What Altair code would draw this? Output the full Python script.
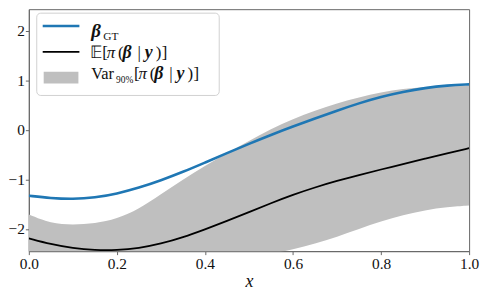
import altair as alt
import pandas as pd

xs = [0.00, 0.05, 0.10, 0.15, 0.20, 0.25, 0.30, 0.35, 0.40, 0.45, 0.50,
      0.55, 0.60, 0.65, 0.70, 0.75, 0.80, 0.85, 0.90, 0.95, 1.00]
beta_gt = [-1.33, -1.38, -1.40, -1.37, -1.29, -1.17, -1.02, -0.85, -0.66, -0.47, -0.28,
           -0.10, 0.07, 0.23, 0.39, 0.54, 0.67, 0.77, 0.85, 0.90, 0.92]
post_mean = [-2.19, -2.31, -2.39, -2.43, -2.43, -2.39, -2.30, -2.17, -2.01, -1.84, -1.66,
             -1.48, -1.31, -1.16, -1.03, -0.91, -0.80, -0.69, -0.58, -0.47, -0.37]
band_upper = [-1.71, -1.89, -1.92, -1.89, -1.80, -1.60, -1.30, -1.00, -0.73, -0.47, -0.22,
              0.02, 0.22, 0.39, 0.54, 0.66, 0.76, 0.83, 0.87, 0.89, 0.90]
band_lower = [-2.75, -2.95, -3.05, -3.10, -3.10, -3.05, -2.95, -2.85, -2.75, -2.65, -2.57,
              -2.50, -2.42, -2.30, -2.16, -2.00, -1.85, -1.72, -1.62, -1.56, -1.53]
x_ticks = [0.0, 0.2, 0.4, 0.6, 0.8, 1.0]
y_ticks = [-2, -1, 0, 1, 2]

df = pd.DataFrame({"x": xs, "gt": beta_gt, "mean": post_mean,
                   "lo": band_lower, "hi": band_upper})

SERIF = "Liberation Serif"
FRAME = "#666666"
INK = "#111111"

xenc = alt.X("x:Q", scale=alt.Scale(domain=[0, 1], nice=False),
             axis=alt.Axis(values=x_ticks, format=".1f", title="x", labelFlush=False,
                           labelFont=SERIF, titleFont=SERIF,
                           titleFontStyle="italic", titleFontWeight="normal",
                           titleFontSize=18, titlePadding=1))
yscale = alt.Scale(domain=[-2.45, 2.44], nice=False)
yaxis = alt.Axis(values=y_ticks, format="d", title=None, labelFont=SERIF,
                 labelFlush=False, labelPadding=1)

base = alt.Chart(df)
band = base.mark_area(color="#bfbfbf", opacity=1, clip=True, interpolate="basis").encode(
    x=xenc, y=alt.Y("lo:Q", scale=yscale, axis=yaxis), y2="hi:Q")
mean_line = base.mark_line(color="black", strokeWidth=1.8, clip=True, interpolate="basis").encode(
    x="x:Q", y=alt.Y("mean:Q", scale=yscale))
gt_line = base.mark_line(color="#1f77b4", strokeWidth=2.6, clip=True, interpolate="basis").encode(
    x="x:Q", y=alt.Y("gt:Q", scale=yscale))

one = alt.Data(values=[{"k": 1}])
leg = alt.Chart(one)
box = leg.mark_rect(fill="white", fillOpacity=0.8, stroke="#d0d0d0", strokeWidth=1,
                    cornerRadius=4).encode(
    x=alt.value(8), x2=alt.value(192), y=alt.value(4), y2=alt.value(87))
l1 = leg.mark_rule(color="#1f77b4", strokeWidth=2.6).encode(
    x=alt.value(14), x2=alt.value(51), y=alt.value(17))
l2 = leg.mark_rule(color="black", strokeWidth=1.8).encode(
    x=alt.value(14), x2=alt.value(51), y=alt.value(43))
l3 = leg.mark_rect(color="#bfbfbf").encode(
    x=alt.value(15), x2=alt.value(50), y=alt.value(63), y2=alt.value(75))

def txt(s, x, y, size=17, style="normal", weight="normal"):
    return leg.mark_text(align="left", baseline="alphabetic", font=SERIF, fontSize=size,
                         fontStyle=style, fontWeight=weight, color=INK).encode(
        x=alt.value(x), y=alt.value(y), text=alt.value(s))

def expr_row(x0, y):
    # "[π (β | y)]" drawn glyph by glyph
    return [
        txt("[", x0, y),
        txt("π", x0 + 4.5, y, style="italic"),
        txt("(", x0 + 16, y),
        txt("β", x0 + 20.5, y, size=18, style="italic", weight="bold"),
        txt("|", x0 + 35.5, y),
        txt("y", x0 + 43, y, size=18, style="italic", weight="bold"),
        txt(")", x0 + 54, y),
        txt("]", x0 + 60, y),
    ]

texts = [
    txt("β", 63, 28, size=19, style="italic", weight="bold"),
    txt("GT", 75, 31, size=11.5),
    txt("𝔼", 62, 49),
    txt("Var", 63, 70, size=16.5),
    txt("90%", 88, 74, size=9.5),
]
texts += expr_row(74, 49)
texts += expr_row(106, 70)

chart = alt.layer(band, mean_line, gt_line, box, l1, l2, l3, *texts).properties(
    width=444, height=244,
    autosize=alt.AutoSizeParams(type="none"),
    padding={"left": 21, "top": 0, "right": 12, "bottom": 40},
).configure_view(stroke=FRAME, strokeWidth=1).configure_axis(
    labelFont=SERIF, titleFont=SERIF, labelFontSize=15.5, labelColor=INK,
    domainColor=FRAME, tickColor=FRAME, tickSize=3.5, grid=False, labelPadding=2,
    titleColor=INK
)

chart.save("out.html", embed_options={"renderer": "svg", "actions": False})
